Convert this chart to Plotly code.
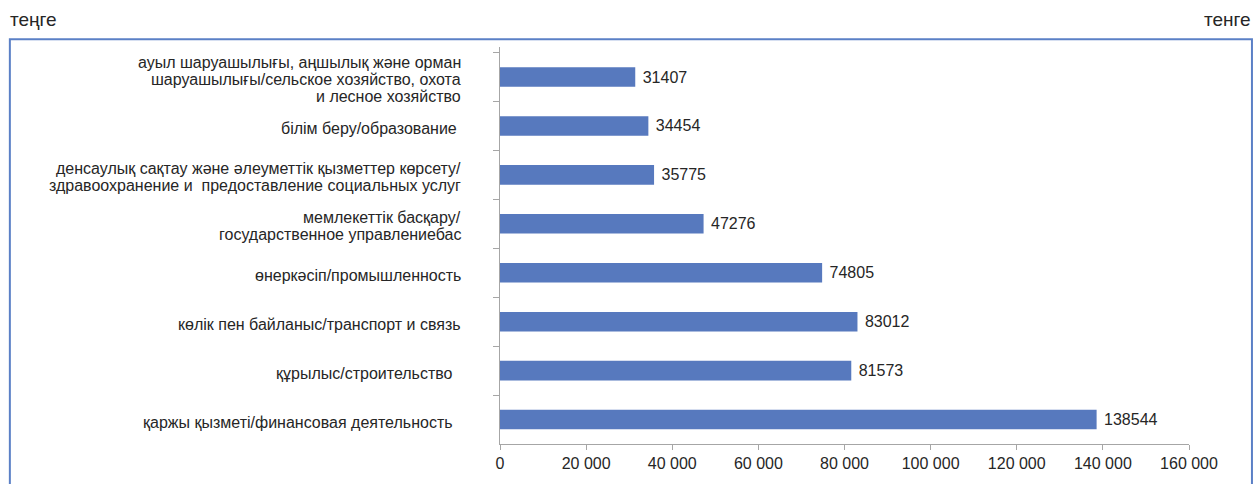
import plotly.graph_objects as go

categories = [
    "ауыл шаруашылығы, аңшылық және орман<br>шаруашылығы/сельское хозяйство, охота<br>и лесное хозяйство",
    "білім беру/образование\u00a0",
    "денсаулық сақтау және әлеуметтік қызметтер көрсету/<br>здравоохранение и\u00a0 предоставление социальных услуг",
    "мемлекеттік басқару/<br>государственное управлениебас",
    "өнеркәсіп/промышленность",
    "көлік пен байланыс/транспорт и связь",
    "құрылыс/строительство\u00a0\u00a0",
    "қаржы қызметі/финансовая деятельность\u00a0\u00a0",
]
values = [31407, 34454, 35775, 47276, 74805, 83012, 81573, 138544]
x_tickvals = [0, 20000, 40000, 60000, 80000, 100000, 120000, 140000, 160000]
x_ticktext = ["0", "20 000", "40 000", "60 000", "80 000", "100 000", "120 000", "140 000", "160 000"]
unit_left = "теңге"
unit_right = "тенге"

W, H = 1257, 484
L, R, T, B = 499.5, 68, 47, 30
pw = W - L - R
ph = H - T - B

def px_x(p):
    return (p - L) / pw

def px_y(p):
    return (H - B - p) / ph

FONT = "Liberation Sans, Arial, sans-serif"
TXT = "#262626"

fig = go.Figure(
    go.Bar(
        x=values,
        y=categories,
        orientation="h",
        marker=dict(color="#5779BE", line=dict(width=0)),
        width=0.4,
        text=["\u00a0" + str(v) for v in values],
        textposition="outside",
        textfont=dict(family=FONT, size=16, color=TXT),
        cliponaxis=False,
    )
)

annotations = [
    dict(
        text=unit_left,
        xref="paper",
        yref="paper",
        x=px_x(7),
        y=px_y(19),
        xanchor="left",
        yanchor="middle",
        showarrow=False,
        font=dict(family=FONT, size=19, color=TXT),
    ),
    dict(
        text=unit_right,
        xref="paper",
        yref="paper",
        x=px_x(1253),
        y=px_y(19),
        xanchor="right",
        yanchor="middle",
        showarrow=False,
        font=dict(family=FONT, size=19, color=TXT),
    ),
]

# category labels, one text per line so the line spacing can be tight
for cat in categories:
    lines = cat.split("<br>")
    n = len(lines)
    sp = 17
    for i, ln in enumerate(lines):
        annotations.append(
            dict(
                text=ln,
                xref="paper",
                yref="y",
                x=px_x(462),
                y=cat,
                yshift=-2.5 + ((n - 1) / 2 - i) * sp,
                xanchor="right",
                yanchor="middle",
                align="right",
                showarrow=False,
                font=dict(family=FONT, size=16, color=TXT),
            )
        )

fig.update_layout(
    width=W,
    height=H,
    margin=dict(l=L, r=R, t=T, b=B, pad=0),
    paper_bgcolor="white",
    plot_bgcolor="white",
    showlegend=False,
    font=dict(family=FONT, size=16, color=TXT),
    xaxis=dict(
        range=[0, 160000],
        tickvals=x_tickvals,
        ticktext=x_ticktext,
        showgrid=False,
        zeroline=False,
        showline=True,
        linecolor="#A6A6A6",
        linewidth=1,
        ticks="outside",
        ticklen=5,
        tickcolor="#A6A6A6",
        tickfont=dict(family=FONT, size=16, color=TXT),
    ),
    yaxis=dict(
        type="category",
        categoryorder="array",
        categoryarray=categories,
        autorange="reversed",
        showgrid=False,
        zeroline=False,
        showline=True,
        linecolor="#A6A6A6",
        linewidth=1,
        ticks="outside",
        ticklen=6,
        tickcolor="#A6A6A6",
        tickson="boundaries",
        showticklabels=False,
    ),
    shapes=[
        dict(
            type="rect",
            xref="paper",
            yref="paper",
            x0=px_x(9),
            x1=px_x(1252),
            y0=px_y(520),
            y1=px_y(39),
            line=dict(color="#5B80C6", width=2),
            fillcolor="rgba(0,0,0,0)",
            layer="below",
        )
    ],
    annotations=annotations,
)

fig.write_html(
    "out.html",
    config={"displayModeBar": False},
    post_script="document.body.style.margin='0px';document.body.style.overflow='hidden';",
)
